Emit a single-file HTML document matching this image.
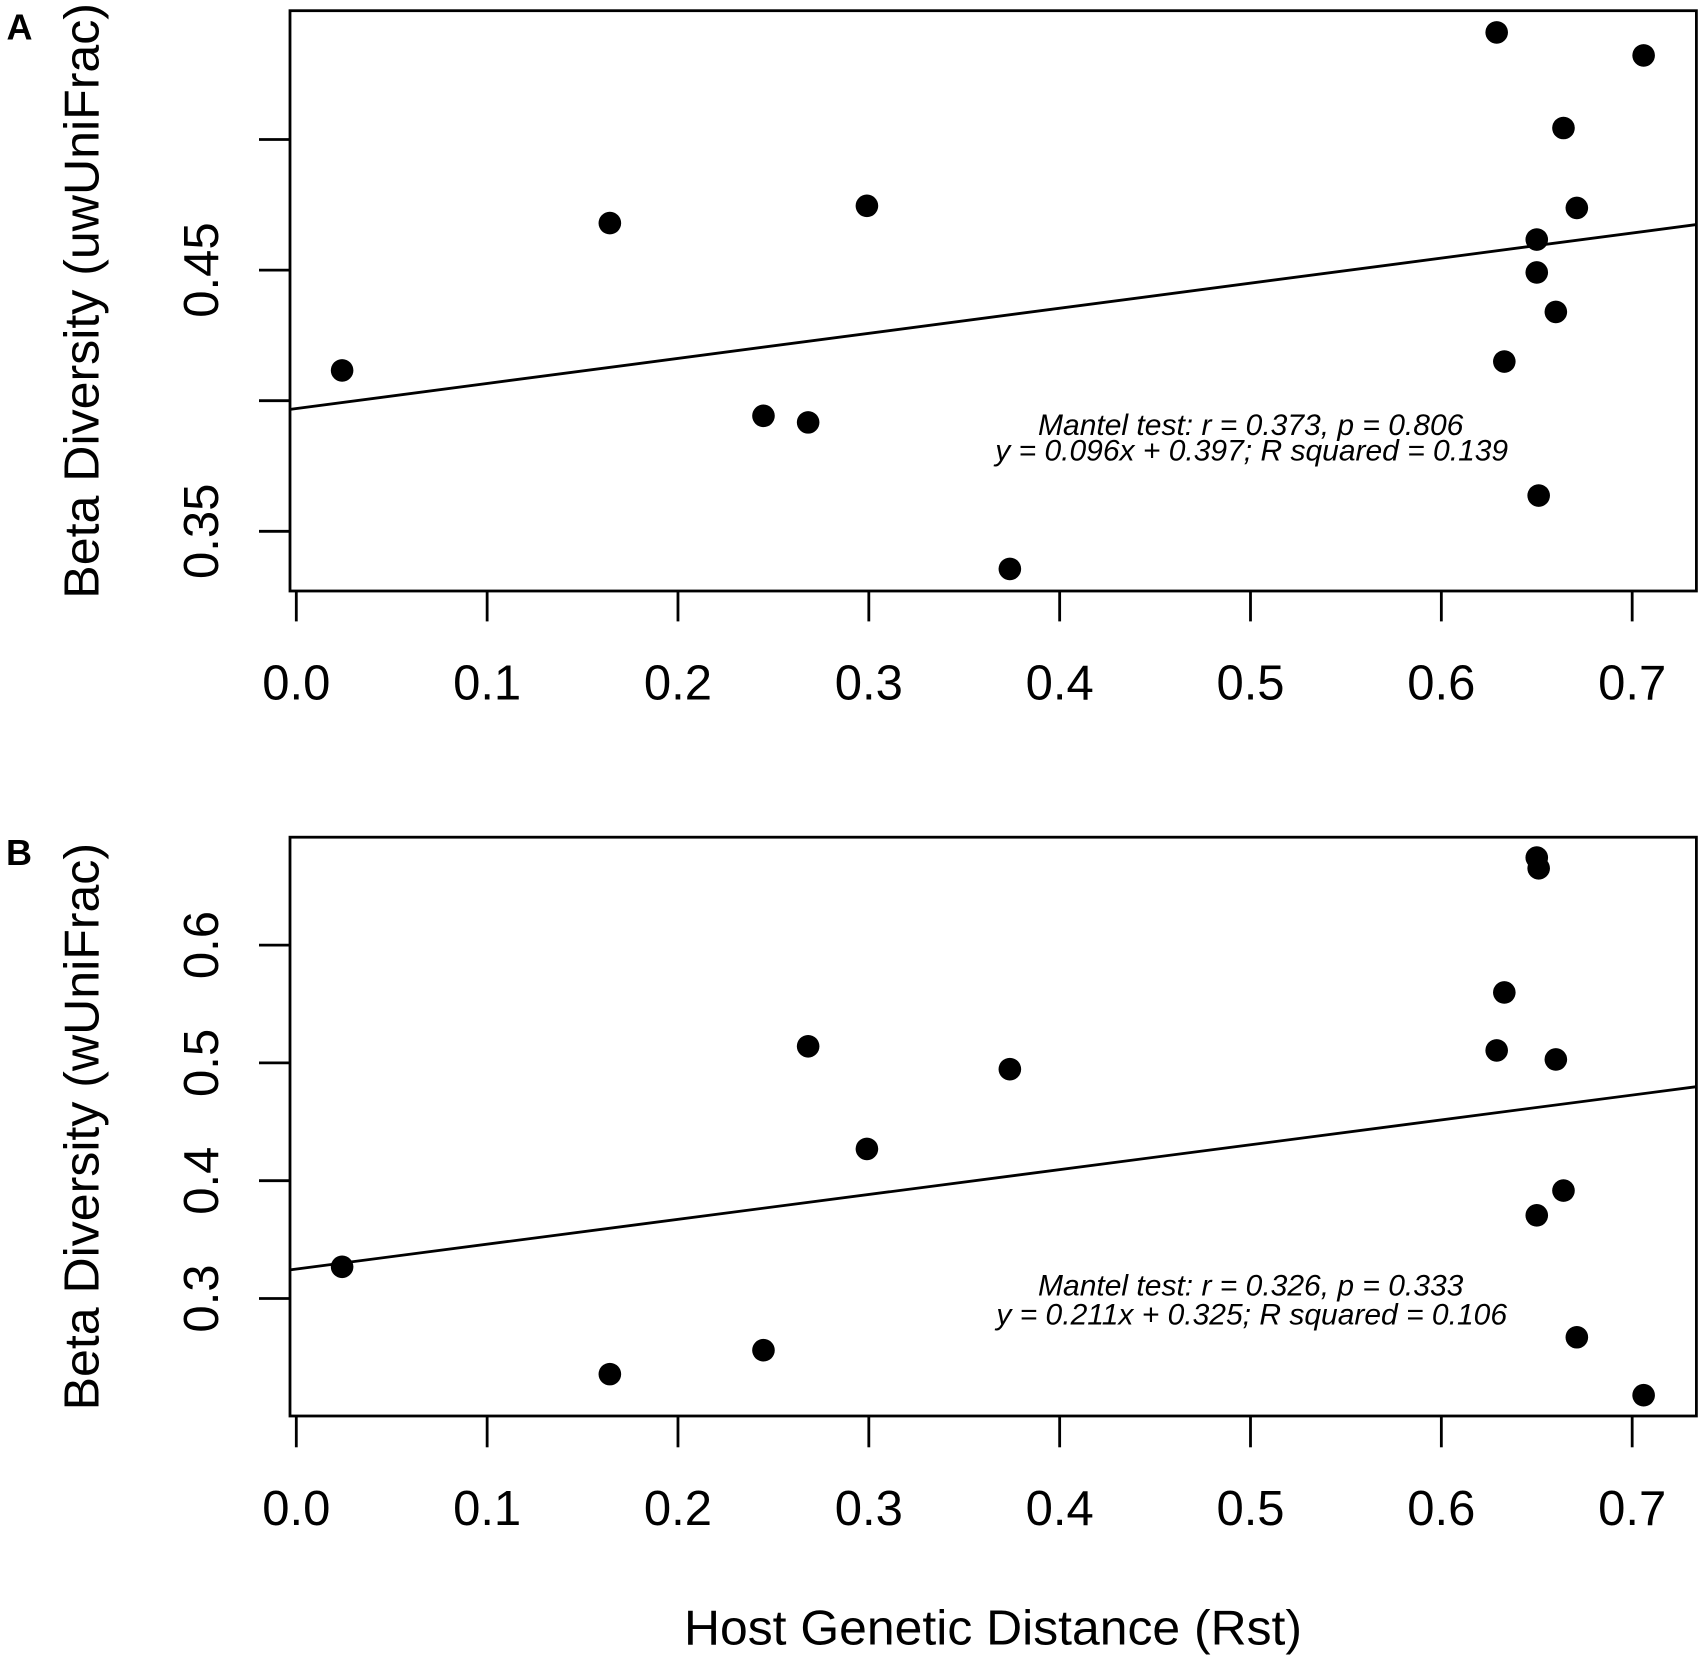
<!DOCTYPE html>
<html lang="en">
<head>
<meta charset="utf-8">
<title>Beta diversity vs host genetic distance</title>
<style>
html,body{margin:0;padding:0;background:#fff;}
svg{display:block;}
text{font-family:"Liberation Sans",Arial,sans-serif;fill:#000;}
.tick{font-size:49px;}
.title{font-size:49px;}
.note{font-size:30px;font-style:italic;}
.panel{font-size:36px;font-weight:bold;}
</style>
</head>
<body>
<svg id="fig" width="1704" height="1662" viewBox="0 0 1704 1662" xmlns="http://www.w3.org/2000/svg">
  <rect x="0" y="0" width="1704" height="1662" fill="#fff"/>
  <text class="panel" x="6.5" y="39.7">A</text>
  <text class="panel" x="6" y="865">B</text>
  <text class="title" transform="translate(98.5,598.7) rotate(-90)" textLength="595.7" lengthAdjust="spacingAndGlyphs">Beta Diversity (uwUniFrac)</text>
  <text class="title" transform="translate(98.5,1410.4) rotate(-90)" textLength="567.4" lengthAdjust="spacingAndGlyphs">Beta Diversity (wUniFrac)</text>
  <text class="title" x="684" y="1644.5" textLength="618" lengthAdjust="spacingAndGlyphs">Host Genetic Distance (Rst)</text>
  <text class="note" x="1250.7" y="435" text-anchor="middle">Mantel test: r = 0.373, p = 0.806</text>
  <text class="note" x="1251.7" y="460.7" text-anchor="middle">y = 0.096x + 0.397; R squared = 0.139</text>
  <text class="note" x="1250.7" y="1295.5" text-anchor="middle">Mantel test: r = 0.326, p = 0.333</text>
  <text class="note" x="1251.7" y="1324.6" text-anchor="middle">y = 0.211x + 0.325; R squared = 0.106</text>
</svg>
<script>
var xTicks = [0.0, 0.1, 0.2, 0.3, 0.4, 0.5, 0.6, 0.7];
var xTickLabels = ["0.0", "0.1", "0.2", "0.3", "0.4", "0.5", "0.6", "0.7"];

var rst = [0.024, 0.1643, 0.2448, 0.2682, 0.299, 0.3739, 0.629, 0.633, 0.650, 0.650, 0.651, 0.660, 0.664, 0.671, 0.706];

var uwUniFrac = [0.4116, 0.4680, 0.3942, 0.3917, 0.4746, 0.3356, 0.5410, 0.4150, 0.4617, 0.4491, 0.3637, 0.4340, 0.5044, 0.4738, 0.5322];
var wUniFrac = [0.3269, 0.2358, 0.2561, 0.5141, 0.4270, 0.4947, 0.5106, 0.5598, 0.6743, 0.3706, 0.6652, 0.5029, 0.3916, 0.2671, 0.2179];

var yTicksA = [0.35, 0.40, 0.45, 0.50];
var yTickLabelsA = ["0.35", "", "0.45", ""];
var yTicksB = [0.3, 0.4, 0.5, 0.6];
var yTickLabelsB = ["0.3", "0.4", "0.5", "0.6"];

var fitA = [0.096, 0.397];
var fitB = [0.211, 0.325];

var svg = document.getElementById('fig');
var NS = 'http://www.w3.org/2000/svg';
var LEFT = 290, RIGHT = 1696.4;
var STROKE = 2.8;

function xScale(v) { return 296.3 + 1908.4 * v; }
function xInverse(px) { return (px - 296.3) / 1908.4; }
function yScaleA(v) { return 531.3 - (v - 0.35) * 2612; }
function yScaleB(v) { return 1298.5 - (v - 0.3) * 1178; }

function make(tag) {
  var el = document.createElementNS(NS, tag);
  svg.appendChild(el);
  return el;
}
function setLine(el, x1, y1, x2, y2, w) {
  el.setAttribute('x1', x1);
  el.setAttribute('y1', y1);
  el.setAttribute('x2', x2);
  el.setAttribute('y2', y2);
  el.setAttribute('stroke', '#000');
  el.setAttribute('stroke-width', w);
}

function drawPanel(suffix, top, bottom, tickBottom, labelBaseline, yScale, yTicks, yLabels, ys, fit) {
  var i, el;

  el = make('rect');
  el.setAttribute('x', LEFT);
  el.setAttribute('y', top);
  el.setAttribute('width', RIGHT - LEFT);
  el.setAttribute('height', bottom - top);
  el.setAttribute('fill', 'none');
  el.setAttribute('stroke', '#000');
  el.setAttribute('stroke-width', STROKE);
  
  

  for (i = 0; i < xTicks.length; i++) {
    el = make('line');
    setLine(el, xScale(xTicks[i]), bottom, xScale(xTicks[i]), tickBottom, STROKE);
    
    

    el = make('text');
    el.setAttribute('class', 'tick');
    el.setAttribute('x', xScale(xTicks[i]));
    el.setAttribute('y', labelBaseline);
    el.setAttribute('text-anchor', 'middle');
    el.textContent = xTickLabels[i];
    
    
  }

  for (i = 0; i < yTicks.length; i++) {
    el = make('line');
    setLine(el, 259, yScale(yTicks[i]), LEFT, yScale(yTicks[i]), STROKE);
    
    

    if (yLabels[i]) {
      el = make('text');
      el.setAttribute('class', 'tick');
      el.setAttribute('text-anchor', 'middle');
      el.setAttribute('transform', 'translate(218,' + yScale(yTicks[i]) + ') rotate(-90)');
      el.textContent = yLabels[i];
      
      
    }
  }

  var xa = xInverse(LEFT), xb = xInverse(RIGHT);
  el = make('line');
  setLine(el, LEFT, yScale(fit[0] * xa + fit[1]), RIGHT, yScale(fit[0] * xb + fit[1]), STROKE);
  
  

  for (i = 0; i < rst.length; i++) {
    el = make('circle');
    el.setAttribute('cx', xScale(rst[i]));
    el.setAttribute('cy', yScale(ys[i]));
    el.setAttribute('r', 11.3);
    el.setAttribute('fill', '#000');
    
    
  }
}

drawPanel('a', 10.7, 591, 621.4, 699.5, yScaleA, yTicksA, yTickLabelsA, uwUniFrac, fitA);
drawPanel('b', 837.2, 1416, 1447.3, 1525, yScaleB, yTicksB, yTickLabelsB, wUniFrac, fitB);
</script>
</body>
</html>
